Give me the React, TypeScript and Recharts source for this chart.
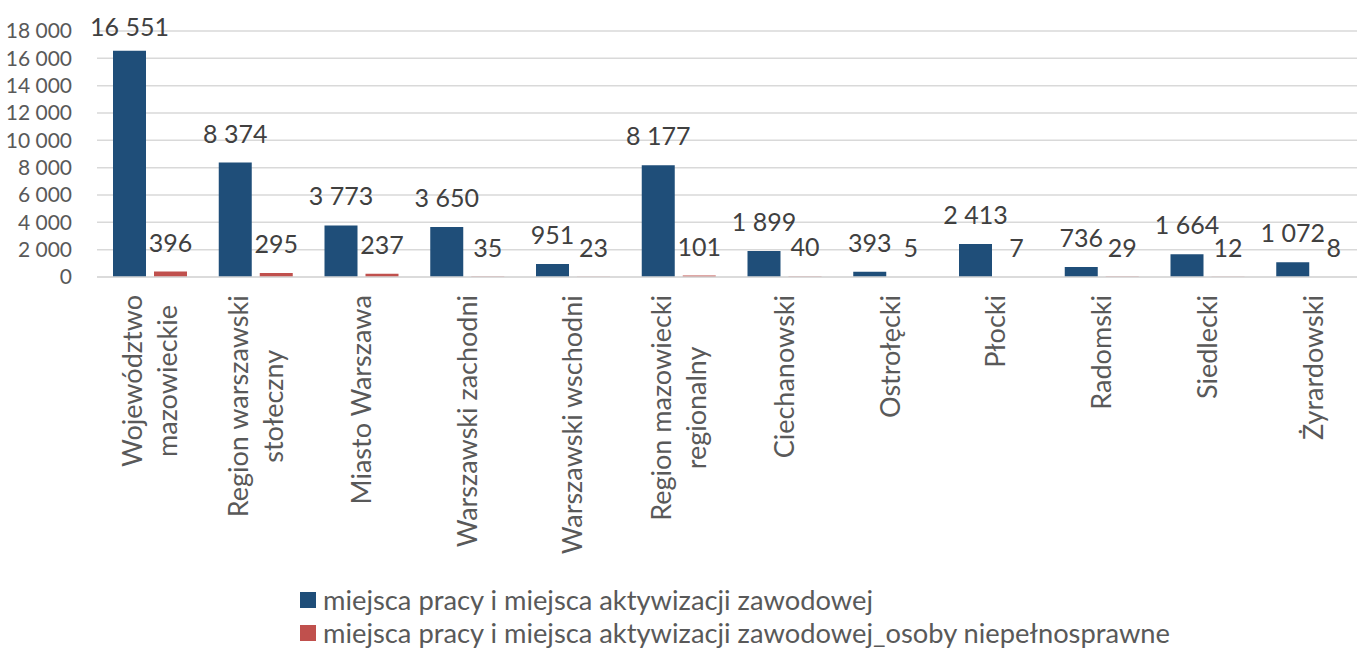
import { Bar, BarChart, CartesianGrid, LabelList, Legend, XAxis, YAxis } from "recharts";

const categories = [
  "Województwo\nmazowieckie",
  "Region warszawski\nstołeczny",
  "Miasto Warszawa",
  "Warszawski zachodni",
  "Warszawski wschodni",
  "Region mazowiecki\nregionalny",
  "Ciechanowski",
  "Ostrołęcki",
  "Płocki",
  "Radomski",
  "Siedlecki",
  "Żyrardowski",
];
const jobs = [16551, 8374, 3773, 3650, 951, 8177, 1899, 393, 2413, 736, 1664, 1072];
const jobsDisabled = [396, 295, 237, 35, 23, 101, 40, 5, 7, 29, 12, 8];
const yTicks = [0, 2000, 4000, 6000, 8000, 10000, 12000, 14000, 16000, 18000];

const seriesNames = [
  "miejsca pracy i miejsca aktywizacji zawodowej",
  "miejsca pracy i miejsca aktywizacji zawodowej_osoby niepełnosprawne",
];
const BLUE = "#1F4E79";
const RED = "#C0504D";
const FONT = "Lato, sans-serif";

const data = categories.map((name, i) => ({ name, jobs: jobs[i], disabled: jobsDisabled[i] }));

const fmt = (v: number) => String(v).replace(/\B(?=(\d{3})+(?!\d))/g, " ");

let ctx: CanvasRenderingContext2D | null = null;
const measure = (s: string, size: number) => {
  if (!ctx) ctx = document.createElement("canvas").getContext("2d");
  if (!ctx) return s.length * size * 0.5;
  ctx.font = `${size}px Lato`;
  return ctx.measureText(s).width;
};

const XTick = (props: any) => {
  const { x, payload } = props;
  const size = 27;
  const lines: string[] = String(payload.value).split("\n");
  const maxW = Math.max(...lines.map((l) => measure(l, size)));
  const lh = 35;
  const cap = 19;
  return (
    <g transform={`translate(${x},295) rotate(-90)`}>
      {lines.map((l, i) => (
        <text
          key={i}
          x={-maxW / 2}
          y={cap / 2 + (i - (lines.length - 1) / 2) * lh}
          textAnchor="middle"
          fill="#595959"
          fontSize={size}
          fontFamily={FONT}
        >
          {l}
        </text>
      ))}
    </g>
  );
};

const ValueLabel = (props: any) => {
  const { x, y, width, value } = props;
  return (
    <text
      x={x + width / 2}
      y={Math.max(y - 20, 36)}
      textAnchor="middle"
      fill="#404040"
      fontSize={25}
      fontFamily={FONT}
    >
      {fmt(value)}
    </text>
  );
};

const LegendBox = () => (
  <div style={{ height: 65, fontFamily: FONT, fontSize: 27.3, color: "#595959" }}>
    {seriesNames.map((n, i) => (
      <div key={n} style={{ height: 33, display: "flex", alignItems: "center", whiteSpace: "nowrap" }}>
        <span style={{ display: "inline-block", width: 16, height: 16, background: i === 0 ? BLUE : RED, marginRight: 7 }} />
        {n}
      </div>
    ))}
  </div>
);

export default function App() {
  return (
    <div style={{ position: "absolute", left: 0, top: 0, width: 1357, height: 648, overflow: "hidden", background: "#fff" }}>
      <BarChart
        width={1366}
        height={648}
        data={data}
        margin={{ top: 31, right: 0, left: 0, bottom: 0 }}
        barSize={33}
        barGap={8}
      >
        <CartesianGrid vertical={false} stroke="#d9d9d9" strokeWidth={1.5} />
        <XAxis
          dataKey="name"
          height={306}
          interval={0}
          tickLine={false}
          axisLine={{ stroke: "#d9d9d9", strokeWidth: 1.5 }}
          tick={<XTick />}
        />
        <YAxis
          width={97}
          domain={[0, 18000]}
          ticks={yTicks}
          interval={0}
          tickFormatter={fmt}
          axisLine={false}
          tickLine={false}
          tickSize={0}
          tickMargin={25}
          tick={{ fill: "#595959", fontSize: 21, fontFamily: FONT }}
        />
        <Legend
          verticalAlign="bottom"
          align="left"
          layout="horizontal"
          content={<LegendBox />}
          wrapperStyle={{ left: 300, bottom: 0, width: "auto" }}
        />
        <Bar dataKey="jobs" name={seriesNames[0]} fill={BLUE} isAnimationActive={false}>
          <LabelList dataKey="jobs" content={<ValueLabel />} />
        </Bar>
        <Bar dataKey="disabled" name={seriesNames[1]} fill={RED} isAnimationActive={false}>
          <LabelList dataKey="disabled" content={<ValueLabel />} />
        </Bar>
      </BarChart>
    </div>
  );
}
